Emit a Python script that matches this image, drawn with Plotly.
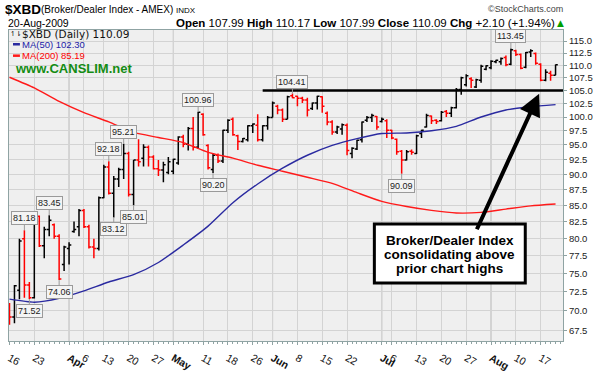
import math
import plotly.graph_objects as go

# ---------------- data ----------------
# trading-day index 0 = 16-Mar-2009 ... 110 = 20-Aug-2009
bar_open = [70.2, 69.2, 72.7, 79.9, 73.4, 71.7, 83.3, 78.9, 81.3, 82.0,
            80.3, 76.2, 78.5, 81.0, 81.7, 84.2, 81.7, 78.7, 78.5, 86.2,
            91.2, 86.9, 89.2, 90.8, 93.5, 86.7, 92.4, 92.7, 94.6, 92.9,
            90.9, 90.7, 90.3, 90.5, 91.9, 96.4, 95.1, 97.9, 94.6, 100.5,
            94.9, 90.8, 93.2, 92.2, 97.6, 99.6, 96.6, 95.6, 95.9, 98.4,
            98.5, 95.9, 98.4, 99.9, 102.0, 101.3, 99.6, 104.0, 103.9, 103.5,
            103.2, 101.6, 102.6, 103.8, 100.7, 99.1, 97.3, 97.8, 98.5, 93.5,
            94.3, 95.9, 99.4, 99.9, 100.1, 99.2, 99.3, 97.6, 96.0, 93.9,
            92.4, 93.9, 93.5, 97.0, 98.2, 100.2, 99.4, 99.3, 101.0, 100.7,
            101.7, 105.2, 106.1, 107.3, 105.7, 107.0, 109.2, 109.5, 110.7, 110.7,
            111.6, 110.2, 113.0, 112.2, 109.6, 112.7, 112.4, 110.2, 107.0, 108.4,
            107.99]
bar_high = [71.0, 73.4, 79.9, 81.18, 73.8, 82.7, 83.4, 81.7, 83.45, 82.2,
            80.6, 78.9, 79.4, 82.5, 84.4, 84.4, 82.0, 79.9, 86.4, 91.6,
            92.18, 89.7, 91.1, 95.21, 93.8, 92.4, 96.0, 95.1, 94.9, 93.2,
            92.4, 92.1, 92.9, 92.6, 96.5, 96.8, 98.2, 100.0, 100.96, 100.7,
            95.1, 93.5, 93.5, 97.7, 99.6, 99.9, 96.8, 96.2, 98.5, 98.8,
            100.5, 98.5, 100.2, 102.9, 102.3, 101.6, 104.0, 104.41, 104.0, 103.8,
            103.6, 102.7, 104.0, 103.9, 101.0, 99.4, 98.4, 98.8, 98.8, 94.6,
            95.9, 99.2, 100.2, 100.6, 100.2, 99.9, 99.6, 97.7, 96.1, 94.1,
            94.1, 94.2, 96.8, 97.7, 100.6, 100.3, 99.6, 101.1, 101.3, 101.9,
            105.5, 107.7, 108.2, 107.6, 107.3, 110.1, 110.0, 111.0, 111.1, 111.6,
            112.0, 113.45, 113.2, 112.4, 112.7, 113.3, 112.6, 110.4, 109.2, 108.9,
            110.17]
bar_low = [68.2, 68.4, 71.5, 71.7, 71.52, 71.6, 78.7, 77.1, 80.3, 79.9,
           74.06, 75.3, 76.2, 80.8, 80.3, 81.5, 78.5, 77.1, 78.2, 86.1,
           86.7, 83.12, 87.9, 89.2, 86.4, 85.01, 91.3, 91.3, 91.3, 90.8,
           89.7, 88.7, 90.0, 90.0, 91.6, 94.6, 94.0, 94.0, 94.3, 96.6,
           90.8, 90.2, 91.9, 91.9, 97.1, 96.6, 94.1, 95.4, 95.6, 97.1,
           95.6, 95.6, 97.7, 99.9, 100.5, 99.1, 99.6, 103.5, 102.0, 102.6,
           100.1, 101.3, 101.4, 100.8, 98.5, 96.8, 96.9, 96.8, 93.2, 92.7,
           94.1, 95.4, 99.1, 99.1, 97.7, 99.0, 96.2, 96.0, 93.3, 90.09,
           92.3, 93.3, 93.4, 96.2, 98.1, 98.7, 98.7, 99.2, 100.0, 100.0,
           101.6, 104.2, 105.8, 105.5, 105.5, 106.5, 109.0, 109.2, 110.4, 110.1,
           109.8, 110.0, 111.9, 109.2, 109.4, 111.7, 110.1, 106.8, 106.8, 106.9,
           107.99]
bar_close = [69.2, 73.3, 79.6, 73.4, 71.7, 82.5, 78.9, 81.3, 82.7, 80.3,
             74.2, 78.7, 79.0, 81.3, 84.2, 81.7, 78.7, 78.5, 86.2, 91.2,
             86.9, 89.2, 90.8, 93.5, 86.7, 92.4, 92.1, 94.6, 92.9, 90.9,
             90.7, 91.6, 92.1, 92.5, 96.4, 95.1, 97.9, 94.6, 100.9, 96.8,
             91.1, 93.2, 92.2, 97.6, 99.4, 96.8, 95.6, 96.1, 98.4, 98.7,
             95.9, 98.4, 99.9, 102.6, 101.3, 99.6, 103.8, 103.6, 103.5, 103.2,
             101.3, 102.6, 103.9, 102.0, 99.1, 97.3, 98.2, 98.6, 94.0, 94.4,
             95.8, 99.1, 99.9, 100.3, 98.2, 99.6, 97.6, 96.2, 93.8, 92.4,
             93.8, 93.7, 96.6, 97.6, 100.3, 99.3, 99.2, 100.9, 100.7, 101.7,
             105.2, 107.5, 107.9, 107.0, 107.1, 109.8, 109.9, 110.8, 111.0, 111.4,
             110.1, 113.2, 112.2, 109.4, 112.6, 113.0, 110.4, 107.0, 108.6, 107.99,
             110.09]
prior_close = 70.3  # close of the session before the first bar

ma_idx = [0, 5, 10, 15, 20, 25, 30, 35, 40, 45, 50, 55,
          60, 65, 70, 75, 80, 85, 90, 95, 100, 105, 110]
ma50 = [71.5, 71.1, 71.6, 72.6, 73.8, 74.8, 76.5, 79.0, 81.8, 85.4, 88.4, 91.0,
        93.2, 94.9, 96.1, 97.0, 97.1, 97.5, 98.3, 100.0, 101.3, 101.9, 102.3]
ma200 = [107.6, 105.5, 102.9, 100.8, 99.1, 97.2, 96.3, 95.4, 93.7, 92.7, 91.5, 90.5,
         89.5, 88.5, 87.0, 85.6, 84.8, 84.2, 83.8, 83.9, 84.4, 84.9, 85.19]

y_ticks = [67.5, 70.0, 72.5, 75.0, 77.5, 80.0, 82.5, 85.0, 87.5, 90.0, 92.5,
           95.0, 97.5, 100.0, 102.5, 105.0, 107.5, 110.0, 112.5, 115.0]
x_tick_idx = [0, 5, 12, 15, 19, 24, 29, 33, 39, 44, 49, 53, 58, 63, 68,
              75, 77, 82, 87, 92, 97, 102, 107]
x_tick_text = ["16", "23", "<b>Apr</b>", "6", "13", "20", "27", "<b>May</b>",
               "11", "18", "26", "<b>Jun</b>", "8", "15", "22", "<b>Jul</b>",
               "6", "13", "20", "27", "<b>Aug</b>", "10", "17"]
month_idx = [12, 33, 53, 75, 97]

callout_idx = [3, 8, 4, 10, 20, 23, 21, 25, 38, 41, 57, 79, 101]
callout_val = [81.18, 83.45, 71.52, 74.06, 92.18, 95.21, 83.12, 85.01,
               100.96, 90.20, 104.41, 90.09, 113.45]
callout_side = ["high", "high", "low", "low", "high", "high", "low", "low",
                "high", "low", "high", "low", "high"]

resistance_level = 105.0
resistance_start = 51

# ---------------- figure ----------------
W, H = 599, 378
PL, PR, PT, PB = 6, 564, 30, 357
X0, X1 = -0.1, 111.5


def fx(px):
    return (px - PL) / (PR - PL)


def fy(py):
    return (PB - py) / (PB - PT)


n = len(bar_close)
prev = [prior_close] + bar_close[:-1]
up = [i for i in range(n) if bar_close[i] > prev[i]]
dn = [i for i in range(n) if bar_close[i] <= prev[i]]

fig = go.Figure()


def ohlc(ids, color):
    return go.Ohlc(
        x=ids,
        open=[bar_open[i] for i in ids], high=[bar_high[i] for i in ids],
        low=[bar_low[i] for i in ids], close=[bar_close[i] for i in ids],
        increasing=dict(line=dict(color=color, width=1.5)),
        decreasing=dict(line=dict(color=color, width=1.5)),
        tickwidth=0.45, hoverinfo="skip", showlegend=False)


fig.add_trace(go.Scatter(x=ma_idx, y=ma200, mode="lines",
                         line=dict(color="#ff1a1a", width=1.4, shape="spline", smoothing=0.6),
                         hoverinfo="skip", showlegend=False))
fig.add_trace(go.Scatter(x=ma_idx, y=ma50, mode="lines",
                         line=dict(color="#2a2aa0", width=1.4, shape="spline", smoothing=0.6),
                         hoverinfo="skip", showlegend=False))
fig.add_trace(ohlc(up, "#000000"))
fig.add_trace(ohlc(dn, "#ff0000"))

shapes = []
for m in month_idx:
    shapes.append(dict(type="line", xref="x", yref="paper", x0=m, x1=m, y0=0, y1=1,
                       line=dict(color="#b4b4b4", width=1), layer="below"))
# resistance line (shapes take raw data values on a log axis)
shapes.append(dict(type="line", xref="x", yref="y", x0=resistance_start, x1=X1 + 0.6,
                   y0=resistance_level, y1=resistance_level,
                   line=dict(color="#000000", width=2.5), layer="above"))
# legend swatches
shapes.append(dict(type="line", xref="paper", yref="paper", x0=fx(10), x1=fx(17),
                   y0=fy(45), y1=fy(45), line=dict(color="#2a2aa0", width=2.5)))
shapes.append(dict(type="line", xref="paper", yref="paper", x0=fx(10), x1=fx(17),
                   y0=fy(57), y1=fy(57), line=dict(color="#ff1a1a", width=2.5)))
# comment box
shapes.append(dict(type="rect", xref="paper", yref="paper", x0=fx(374), x1=fx(526),
                   y0=fy(296), y1=fy(234), fillcolor="white",
                   line=dict(color="black", width=3), layer="above"))

ann = []


def txt(px, py, text, size, family="Arial", color="#000", anchor="left"):
    ann.append(dict(xref="paper", yref="paper", x=fx(px), y=fy(py), text=text,
                    showarrow=False, xanchor=anchor, yanchor="middle",
                    font=dict(family=family, size=size, color=color)))


txt(0, 8, "<b>$XBD</b>", 13.5)
txt(36, 8.5, "(Broker/Dealer Index - AMEX)", 10)
txt(172, 9, "INDX", 8)
txt(566, 8, "\u00a9StockCharts.com", 9, color="#444", anchor="right")
txt(3, 22.5, "20-Aug-2009", 10.5)
txt(569, 22.5,
    "<b>Open</b> 107.99 <b>High</b> 110.17 <b>Low</b> 107.99 <b>Close</b> 110.09 "
    "<b>Chg</b> +2.10 (+1.94%)<span style='color:#00a000'>\u25b2</span>",
    11.5, anchor="right")

txt(5, 34.5, "\u21bf\u21c2", 7, family="DejaVu Sans")
txt(17, 34.5, "$XBD (Daily) 110.09", 10.5, family="DejaVu Sans", color="#111")
txt(17, 45, "MA(50) 102.30", 9.5, color="#1c1ca8")
txt(17, 57, "MA(200) 85.19", 9.5, color="#ff0000")
txt(10, 70.5, "<b>www.CANSLIM.net</b>", 13, color="#148c14")

for i, v, s in zip(callout_idx, callout_val, callout_side):
    ann.append(dict(xref="x", yref="y", x=i, y=math.log10(v), text=f"{v:.2f}",
                    showarrow=True, arrowhead=0, arrowwidth=1, arrowcolor="#9a9a9a",
                    ax=0, ay=(-12 if s == "high" else 12), standoff=0,
                    font=dict(family="Arial", size=9, color="#222"),
                    bgcolor="#f4f4f4", bordercolor="#9a9a9a", borderwidth=1, borderpad=1))

# arrow to the consolidation area
ann.append(dict(xref="paper", yref="paper", x=fx(540), y=fy(97), text="",
                showarrow=True, arrowhead=2, arrowsize=1.1, arrowwidth=4,
                arrowcolor="#000", ax=477 - 540, ay=234 - 97, standoff=0))
for py, line in [(251, "Broker/Dealer Index"), (266, "consolidating above"),
                 (281, "prior chart highs")]:
    txt(450, py, f"<b>{line}</b>", 13.5, anchor="center")

fig.update_layout(
    width=W, height=H,
    margin=dict(l=PL, r=W - PR, t=PT, b=H - PB, pad=0),
    paper_bgcolor="white", plot_bgcolor="#efefef",
    showlegend=False,
    shapes=shapes, annotations=ann,
    xaxis=dict(range=[X0, X1], rangeslider=dict(visible=False),
               tickmode="array", tickvals=x_tick_idx, ticktext=x_tick_text,
               showgrid=True, gridcolor="#d3d3d3", gridwidth=1,
               ticks="outside", ticklen=3, tickcolor="#8fa3a3",
               ticklabelstandoff=3,
               showline=True, linecolor="#8fa3a3", linewidth=1, mirror=True,
               zeroline=False,
               tickfont=dict(family="Arial", size=10.5, color="#111"),
               minor=dict(tickmode="linear", tick0=0, dtick=1, ticks="outside",
                          ticklen=2, tickcolor="#8fa3a3", showgrid=False)),
    yaxis=dict(type="log", side="right",
               range=[math.log10(66.2), math.log10(117.38)],
               tickmode="array", tickvals=y_ticks,
               ticktext=[f"{v:.1f}" for v in y_ticks],
               showgrid=True, gridcolor="#d3d3d3", gridwidth=1,
               ticks="outside", ticklen=3, tickcolor="#8fa3a3",
               showline=True, linecolor="#8fa3a3", linewidth=1, mirror=True,
               zeroline=False,
               tickfont=dict(family="Arial", size=9.5, color="#222")),
)

fig.write_html("out.html")
